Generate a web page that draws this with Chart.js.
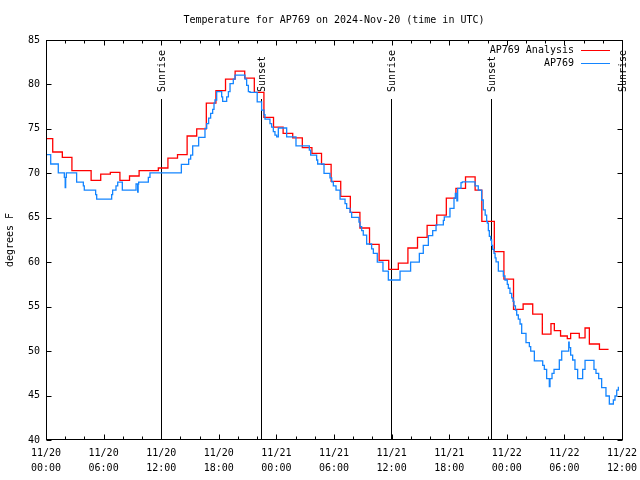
<!DOCTYPE html>
<html>
<head>
<meta charset="utf-8">
<script src="https://cdn.jsdelivr.net/npm/chart.js@4.4.1/dist/chart.umd.min.js"></script>
<style>
  html, body { margin: 0; padding: 0; background: #fff; }
  #wrap { width: 640px; height: 480px; }
</style>
</head>
<body>
<div id="wrap"><canvas id="tempChart" width="640" height="480"></canvas></div>
<script>
// hours since 2024-11-20 00:00 UTC
const redTimes = [0, 0.7, 1.7, 2.7, 4.7, 5.7, 6.7, 7.7, 8.7, 9.7, 11.7, 12.7, 13.7, 14.7, 15.7, 16.7, 17.7, 18.7, 19.7,
    20.7, 21.7, 22.7, 23.7, 24.7, 25.7, 26.7, 27.7, 28.7, 29.7, 30.7, 31.7, 32.7, 33.7, 34.7, 35.7, 36.7, 37.7, 38.7,
    39.7, 40.7, 41.7, 42.7, 43.7, 44.7, 45.4, 46.7, 47.7, 48.7, 49.7, 50.7, 51.7, 52.6, 52.95, 53.6, 54.3, 54.65,
    55.55, 56.15, 56.6, 57.65, 58.6];
const redTemps = [73.9, 72.4, 71.8, 70.3, 69.2, 69.9, 70.1, 69.2, 69.7, 70.3, 70.6, 71.7, 72.1, 74.2, 75.0, 77.9, 79.3, 80.6, 81.5,
    80.7, 79.1, 76.3, 75.2, 74.5, 74.0, 72.9, 72.25, 71.0, 69.1, 67.4, 65.6, 63.85, 62.0, 60.2, 59.2, 59.9, 61.6, 62.8,
    64.15, 65.3, 67.2, 68.3, 69.6, 68.1, 64.6, 61.2, 58.1, 54.7, 55.3, 54.15, 51.9, 53.1, 52.3, 51.7, 51.4, 52.0,
    51.5, 52.6, 50.8, 50.2, 50.2];

const blueTimes = [0, 0.49, 1.28, 1.91, 2.0, 2.05, 2.12, 3.19, 3.89, 3.99, 5.17, 5.28, 6.84, 6.94, 7.29, 7.47, 7.95,
    9.38, 9.55, 9.6, 9.65, 10.66, 10.83, 14.1, 14.86, 15.07, 15.28, 15.9, 16.56, 16.74, 16.94, 17.15, 17.36, 17.5,
    17.6, 17.78, 18.3, 18.4, 18.82, 19.0, 19.17, 19.51, 19.69, 20.73, 20.9, 21.08, 21.25, 22.0, 22.46, 22.71, 22.81,
    23.33, 23.5, 23.68, 23.85, 24.03, 24.2, 25.07, 26.04, 27.43, 27.57, 28.19, 28.3, 28.96, 29.58, 29.76, 29.93,
    30.21, 30.63, 31.15, 31.32, 31.67, 31.84, 32.6, 32.71, 32.88, 33.05, 33.4, 33.92, 34.1, 34.51, 35.1, 35.66,
    36.88, 37.98, 38.89, 39.3, 39.83, 40.28, 40.63, 41.39, 41.49, 42.08, 42.5, 42.64, 42.8, 42.88, 43.23, 43.37,
    44.69, 45.03, 45.38, 45.55, 45.75, 45.9, 45.97, 46.08, 46.18, 46.32, 46.42, 46.53, 46.67, 46.78, 46.88, 47.12,
    47.64, 47.81, 48.05, 48.16, 48.33, 48.51, 48.65, 48.75, 48.9, 49.03, 49.2, 49.38, 49.55, 50.0, 50.35, 50.49,
    50.87, 51.74, 51.91, 52.15, 52.43, 52.5, 52.71, 52.92, 53.47, 53.72, 54.45, 54.5, 54.65, 54.86, 55.1, 55.38,
    55.9, 56.15, 57.08, 57.29, 57.57, 57.88, 58.33, 58.68, 59.1, 59.27, 59.45, 59.62];
const blueTemps = [72.1, 71.05, 70.05, 69.55, 68.4, 69.55, 70.05, 69.0, 68.6, 68.1, 67.6, 67.1, 67.6, 68.1, 68.6, 69.0, 68.1,
    68.8, 67.9, 68.8, 69.0, 69.55, 70.05, 71.0, 71.6, 72.05, 73.1, 74.05, 75.05, 75.6, 76.2, 76.75, 77.2, 77.9,
    78.25, 79.2, 78.6, 78.1, 78.6, 79.2, 80.1, 80.6, 81.05, 80.6, 79.9, 79.2, 79.1, 78.05, 77.1, 76.6, 76.1,
    75.6, 75.2, 74.7, 74.3, 74.1, 75.1, 74.1, 73.1, 72.6, 72.05, 71.5, 71.05, 70.0, 69.5, 69.05, 68.6,
    68.1, 67.1, 66.6, 66.05, 65.6, 65.05, 64.5, 64.0, 63.55, 63.05, 62.05, 61.5, 61.0, 60.0, 59.0, 58.0,
    59.0, 60.0, 61.0, 61.9, 63.0, 63.55, 64.2, 64.7, 65.1, 66.05, 67.2, 67.75, 66.9, 68.3, 68.95, 69.05,
    68.6, 68.1, 67.0, 65.9, 65.3, 64.6, 64.4, 63.55, 62.9, 62.5, 61.9, 61.45, 61.0, 60.5, 60.05, 59.0,
    58.45, 58.0, 57.5, 57.07, 56.5, 56.0, 55.6, 55.1, 54.6, 54.06, 53.6, 53.05, 52.0, 50.95, 50.5, 50.0,
    48.9, 48.4, 47.95, 46.9, 46.0, 46.9, 47.5, 47.95, 49.0, 50.0, 51.0, 50.4, 49.55, 49.0, 47.95, 46.9,
    47.95, 48.95, 47.95, 47.5, 46.9, 45.9, 44.95, 44.05, 44.5, 44.95, 45.6, 46.0];

const sunTimes = [11.98, 22.4, 35.94, 46.35, 59.95];
const sunLabels = ['Sunrise', 'Sunset', 'Sunrise', 'Sunset', 'Sunrise'];

const seriesNames = ['AP769 Analysis', 'AP769'];
const seriesColors = ['#ff0000', '#1485ff'];

const chartTitle = 'Temperature for AP769 on 2024-Nov-20 (time in UTC)';
const FONT = "'DejaVu Sans Mono', monospace";

function toPoints(times, temps) {
    return times.map((t, i) => ({ x: t, y: temps[i] }));
}

function hourLabel(v) {
    const day = 20 + Math.floor(v / 24);
    const hr = v % 24;
    return ['11/' + day, (hr < 10 ? '0' : '') + hr + ':00'];
}

// gnuplot-ish frame, inward ticks, sun lines, title and legend
const gnuplotBits = {
    id: 'gnuplotBits',
    beforeDatasetsDraw(chart) {
        const ctx = chart.ctx;
        const a = chart.chartArea;
        const xs = chart.scales.x;
        ctx.save();
        ctx.strokeStyle = '#000';
        ctx.lineWidth = 1;
        ctx.fillStyle = '#000';
        ctx.font = '10px ' + FONT;
        sunTimes.forEach((t, i) => {
            const px = Math.round(xs.getPixelForValue(t)) + 0.5;
            ctx.beginPath();
            ctx.moveTo(px, 99);
            ctx.lineTo(px, a.bottom);
            ctx.stroke();
            ctx.save();
            ctx.translate(px + 1, 92);
            ctx.rotate(-Math.PI / 2);
            ctx.textAlign = 'left';
            ctx.textBaseline = 'middle';
            ctx.fillText(sunLabels[i], 0, 0);
            ctx.restore();
        });
        ctx.restore();
    },
    afterDraw(chart) {
        const ctx = chart.ctx;
        const a = chart.chartArea;
        const xs = chart.scales.x;
        const ys = chart.scales.y;
        const L = Math.round(a.left) + 0.5, R = Math.round(a.right) + 0.5;
        const T = Math.round(a.top) + 0.5, B = Math.round(a.bottom) - 0.5;
        ctx.save();
        ctx.strokeStyle = '#000';
        ctx.lineWidth = 1;
        ctx.beginPath();
        // y ticks both sides
        ys.ticks.forEach(tk => {
            const py = Math.round(ys.getPixelForValue(tk.value)) + 0.5;
            ctx.moveTo(L, py); ctx.lineTo(L + 5, py);
            ctx.moveTo(R, py); ctx.lineTo(R - 5, py);
        });
        // x ticks, major every 6 h, minor every 2 h
        for (let h = 0; h <= 60; h += 2) {
            const px = Math.round(xs.getPixelForValue(h)) + 0.5;
            const len = h % 6 === 0 ? 5 : 3;
            ctx.moveTo(px, B); ctx.lineTo(px, B - len);
            ctx.moveTo(px, T); ctx.lineTo(px, T + len);
        }
        ctx.stroke();
        ctx.strokeRect(L, T, R - L, B - T);

        ctx.font = '10px ' + FONT;
        ctx.fillStyle = '#000';
        ctx.textBaseline = 'middle';
        ctx.textAlign = 'center';
        ctx.fillText(chartTitle, (a.left + a.right) / 2, 20);

        // legend
        ctx.textAlign = 'right';
        seriesNames.forEach((name, i) => {
            const y = 50 + i * 13;
            ctx.fillText(name, 574, y);
            ctx.strokeStyle = seriesColors[i];
            ctx.beginPath();
            ctx.moveTo(581, y + 0.5);
            ctx.lineTo(610, y + 0.5);
            ctx.stroke();
        });
        ctx.restore();
    }
};

Chart.defaults.color = '#000';
Chart.defaults.font.family = FONT;
Chart.defaults.font.size = 10;

const ctx = document.getElementById('tempChart').getContext('2d');

const tempChart = new Chart(ctx, {
    type: 'line',
    data: {
        datasets: [{
            label: seriesNames[0],
            data: toPoints(redTimes, redTemps),
            borderColor: seriesColors[0],
            borderWidth: 1.3,
            stepped: true,
            pointRadius: 0,
            fill: false,
            order: 2
        }, {
            label: seriesNames[1],
            data: toPoints(blueTimes, blueTemps),
            borderColor: seriesColors[1],
            borderWidth: 1.3,
            stepped: true,
            pointRadius: 0,
            fill: false,
            order: 1
        }]
    },
    options: {
        responsive: false,
        animation: false,
        events: [],
        layout: { padding: { left: 0, right: 18, top: 40, bottom: 0 } },
        plugins: {
            legend: { display: false },
            tooltip: { enabled: false },
            title: { display: false }
        },
        scales: {
            x: {
                type: 'linear',
                min: 0,
                max: 60,
                grid: { display: false, drawTicks: false },
                border: { display: false },
                ticks: {
                    stepSize: 6,
                    autoSkip: false,
                    maxRotation: 0,
                    padding: 6,
                    font: { size: 10, lineHeight: 1.5 },
                    callback: (v) => hourLabel(v)
                },
                afterFit: (s) => { s.height = 40; s.paddingLeft = 0; s.paddingRight = 0; }
            },
            y: {
                min: 40,
                max: 85,
                grid: { display: false, drawTicks: false },
                border: { display: false },
                ticks: { stepSize: 5, padding: 6 },
                title: {
                    display: true,
                    text: 'degrees F',
                    padding: { top: 4, bottom: 0 },
                    font: { size: 10, lineHeight: 1.2 }
                },
                afterFit: (s) => { s.width = 46; s.paddingTop = 0; s.paddingBottom = 0; }
            }
        }
    },
    plugins: [gnuplotBits]
});
</script>
</body>
</html>
